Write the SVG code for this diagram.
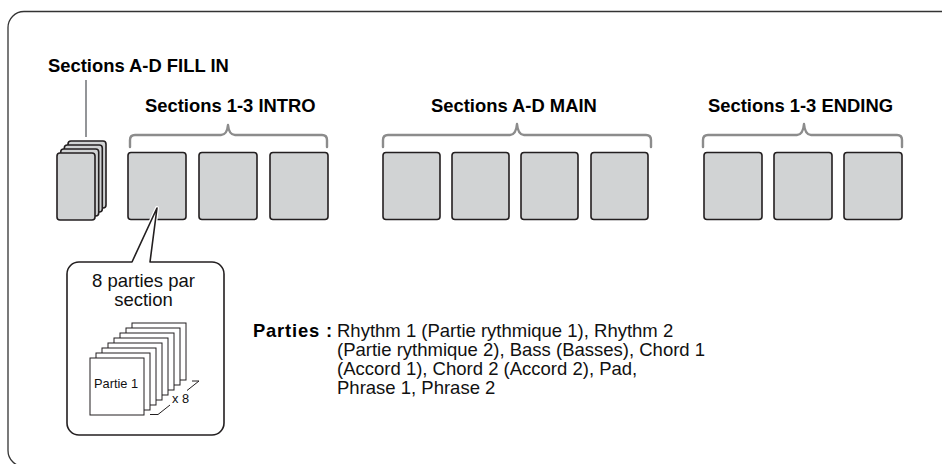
<svg xmlns="http://www.w3.org/2000/svg" width="942" height="464" viewBox="0 0 942 464">
<style>
.frame{fill:none;stroke:#333;stroke-width:1.3}
.box{fill:#d1d3d4;stroke:#231f20;stroke-width:1.6}
.brace{fill:none;stroke:#8c8c8c;stroke-width:2.4;stroke-linecap:round;stroke-linejoin:round}
.lead{stroke:#939598;stroke-width:2}
.page{fill:#fff;stroke:#231f20;stroke-width:1}
.thin{fill:none;stroke:#231f20;stroke-width:1}
.h{font-family:"Liberation Sans",Arial,sans-serif;font-weight:bold;font-size:18.4px;fill:#000}
.t{font-family:"Liberation Sans",Arial,sans-serif;font-size:18.5px;fill:#111}
.s{font-family:"Liberation Sans",Arial,sans-serif;font-size:12.8px;fill:#111}
</style>
<rect class="frame" x="8" y="11.5" width="960" height="455" rx="16"/>

<g id="fillin">
<text class="h" x="48" y="72">Sections A-D FILL IN</text>
<line class="lead" x1="86" y1="80" x2="86" y2="137"/>
<rect class="box" x="68" y="141" width="38" height="67" rx="3"/>
<rect class="box" x="64.3" y="145" width="38" height="67" rx="3"/>
<rect class="box" x="60.7" y="149" width="38" height="67" rx="3"/>
<rect class="box" x="57" y="153" width="38" height="67" rx="3"/>
</g>

<g id="intro">
<text class="h" x="145" y="112">Sections 1-3 INTRO</text>
<path class="brace" d="M130,147 L130,140 Q130,135 135,135 L221,135 Q227,135 228,125 Q229,135 235,135 L322,135 Q327,135 327,140 L327,147"/>
<rect class="box" x="128" y="152.5" width="58" height="67" rx="3"/>
<rect class="box" x="199" y="152.5" width="58" height="67" rx="3"/>
<rect class="box" x="270" y="152.5" width="58" height="67" rx="3"/>
</g>

<g id="main">
<text class="h" x="431" y="112">Sections A-D MAIN</text>
<path class="brace" d="M383,147 L383,140 Q383,135 388,135 L510,135 Q516,135 517,124 Q518,135 524,135 L646,135 Q651,135 651,140 L651,147"/>
<rect class="box" x="383" y="152.5" width="57" height="67" rx="3"/>
<rect class="box" x="452" y="152.5" width="57" height="67" rx="3"/>
<rect class="box" x="521" y="152.5" width="57" height="67" rx="3"/>
<rect class="box" x="591" y="152.5" width="57" height="67" rx="3"/>
</g>

<g id="ending">
<text class="h" x="708" y="112">Sections 1-3 ENDING</text>
<path class="brace" d="M703,147 L703,140 Q703,135 708,135 L797,135 Q803,135 804,124 Q805,135 811,135 L897,135 Q902,135 902,140 L902,147"/>
<rect class="box" x="704" y="152.5" width="58" height="67" rx="3"/>
<rect class="box" x="774" y="152.5" width="58" height="67" rx="3"/>
<rect class="box" x="844" y="152.5" width="58" height="67" rx="3"/>
</g>

<g id="callout">
<path d="M79,262 L132,262 L157,208 L150,262 L212,262 A12,12 0 0 1 224,274 L224,423 A12,12 0 0 1 212,435 L79,435 A12,12 0 0 1 67,423 L67,274 A12,12 0 0 1 79,262 Z" fill="#fff" stroke="#fff" stroke-width="4" stroke-linejoin="round"/>
<path d="M79,262 L132,262 L157,208 L150,262 L212,262 A12,12 0 0 1 224,274 L224,423 A12,12 0 0 1 212,435 L79,435 A12,12 0 0 1 67,423 L67,274 A12,12 0 0 1 79,262 Z" fill="#fff" stroke="#231f20" stroke-width="1.6" stroke-linejoin="round"/>
<text class="t" x="143.5" y="287" text-anchor="middle">8 parties par</text>
<text class="t" x="143.5" y="306" text-anchor="middle">section</text>
<rect class="page" x="132" y="323" width="54" height="57"/>
<rect class="page" x="126" y="328" width="54" height="57"/>
<rect class="page" x="120" y="333" width="54" height="57"/>
<rect class="page" x="114" y="338" width="54" height="57"/>
<rect class="page" x="108" y="343" width="54" height="57"/>
<rect class="page" x="102" y="348" width="54" height="57"/>
<rect class="page" x="96" y="353" width="54" height="57"/>
<rect class="page" x="90" y="358" width="54" height="57"/>
<text class="s" x="94" y="388">Partie 1</text>
<path class="thin" d="M150,414.5 L158,414.5 L170,405 M187,390.5 L199,381 L192,381"/>
<text class="s" x="172" y="403" font-size="13.5">x 8</text>
</g>

<g id="parties">
<text class="h" x="253" y="337" textLength="79">Parties :</text>
<text class="t" x="337" y="337">Rhythm 1 (Partie rythmique 1), Rhythm 2</text>
<text class="t" x="337" y="356">(Partie rythmique 2), Bass (Basses), Chord 1</text>
<text class="t" x="337" y="375">(Accord 1), Chord 2 (Accord 2), Pad,</text>
<text class="t" x="337" y="394">Phrase 1, Phrase 2</text>
</g>
</svg>
